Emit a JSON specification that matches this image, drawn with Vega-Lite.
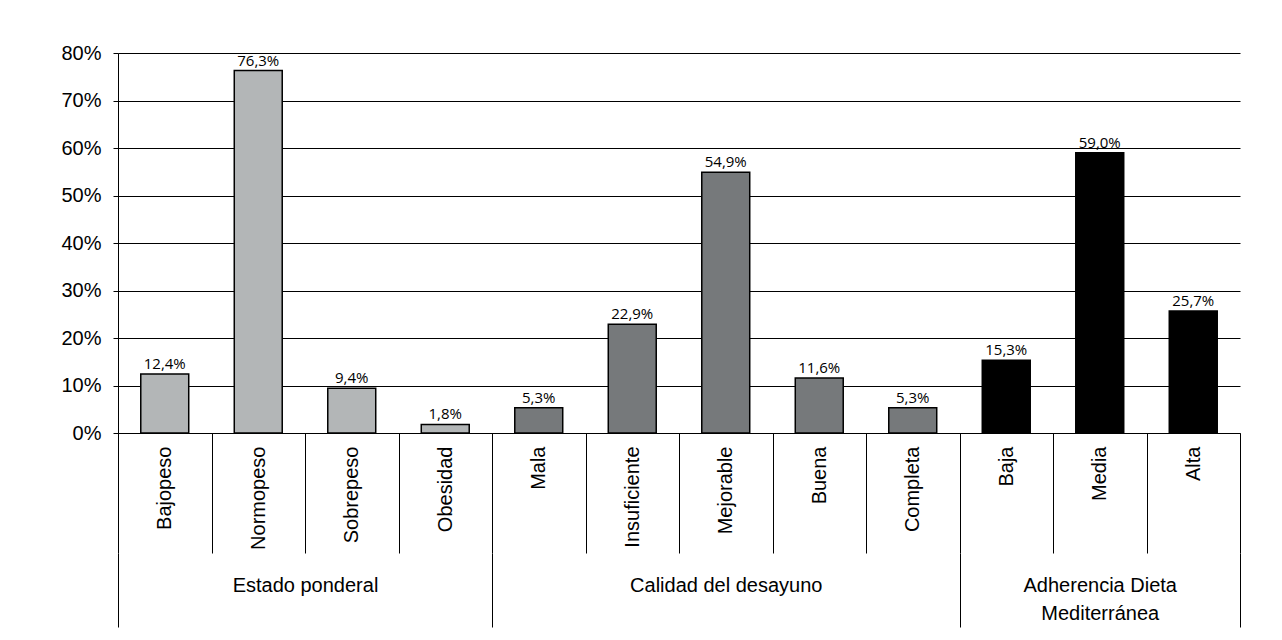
{
  "$schema": "https://vega.github.io/schema/vega-lite/v6.json",
  "width": 1122,
  "height": 380,
  "autosize": {"type": "none"},
  "padding": {"left": 118, "top": 53, "right": 42, "bottom": 207},
  "background": "white",
  "config": {
    "view": {"stroke": null},
    "locale": {"number": {"decimal": ",", "thousands": ".", "grouping": [3], "currency": ["", " €"]}},
    "axis": {"labelFont": "Liberation Sans", "labelColor": "black", "labelFontSize": 20}
  },
  "data": {
    "values": [
      {"grupo": "Estado ponderal", "categoria": "Bajopeso", "porcentaje": 0.124},
      {"grupo": "Estado ponderal", "categoria": "Normopeso", "porcentaje": 0.763},
      {"grupo": "Estado ponderal", "categoria": "Sobrepeso", "porcentaje": 0.094},
      {"grupo": "Estado ponderal", "categoria": "Obesidad", "porcentaje": 0.018},
      {"grupo": "Calidad del desayuno", "categoria": "Mala", "porcentaje": 0.053},
      {"grupo": "Calidad del desayuno", "categoria": "Insuficiente", "porcentaje": 0.229},
      {"grupo": "Calidad del desayuno", "categoria": "Mejorable", "porcentaje": 0.549},
      {"grupo": "Calidad del desayuno", "categoria": "Buena", "porcentaje": 0.116},
      {"grupo": "Calidad del desayuno", "categoria": "Completa", "porcentaje": 0.053},
      {"grupo": "Adherencia Dieta Mediterránea", "categoria": "Baja", "porcentaje": 0.153},
      {"grupo": "Adherencia Dieta Mediterránea", "categoria": "Media", "porcentaje": 0.59},
      {"grupo": "Adherencia Dieta Mediterránea", "categoria": "Alta", "porcentaje": 0.257}
    ]
  },
  "encoding": {
    "y": {
      "field": "porcentaje",
      "type": "quantitative",
      "scale": {"domain": [0, 0.8], "nice": false},
      "axis": {
        "title": null,
        "values": [0, 0.1, 0.2, 0.3, 0.4, 0.5, 0.6, 0.7, 0.8],
        "format": ".0%",
        "domainColor": "black",
        "domainWidth": 1,
        "tickColor": "black",
        "tickSize": 5,
        "gridColor": "black",
        "gridWidth": 1,
        "gridOpacity": 1,
        "labelPadding": 12,
        "labelFontSize": 20
      }
    }
  },
  "layer": [
    {
      "mark": {"type": "bar", "width": {"band": 0.513}, "stroke": "black", "strokeWidth": 1.5},
      "encoding": {
        "x": {
          "field": "categoria",
          "type": "nominal",
          "sort": null,
          "scale": {"paddingInner": 0, "paddingOuter": 0},
          "axis": {
            "title": null,
            "orient": "bottom",
            "labelAngle": 270,
            "labelAlign": "right",
            "labelBaseline": "middle",
            "labelPadding": -107,
            "labelOverlap": false,
            "labelFontSize": 20,
            "tickBand": "extent",
            "tickSize": 120,
            "tickColor": "black",
            "tickWidth": 1,
            "domainColor": "black",
            "domainWidth": 1,
            "grid": false
          }
        },
        "color": {
          "field": "grupo",
          "type": "nominal",
          "scale": {
            "domain": ["Estado ponderal", "Calidad del desayuno", "Adherencia Dieta Mediterránea"],
            "range": ["#b3b6b7", "#76797b", "#000000"]
          },
          "legend": null
        }
      }
    },
    {
      "mark": {"type": "text", "font": "Open Sans", "fontSize": 15, "dy": -5, "baseline": "alphabetic", "color": "black"},
      "encoding": {
        "x": {
          "field": "categoria",
          "type": "nominal",
          "sort": null,
          "axis": {
            "title": null,
            "orient": "bottom",
            "offset": 120,
            "domain": false,
            "grid": false,
            "tickBand": "extent",
            "tickSize": 74,
            "tickColor": "black",
            "tickWidth": 1,
            "tickOpacity": {
              "condition": {"test": "!isValid(datum.value) || datum.value === 'Obesidad' || datum.value === 'Completa' || datum.value === 'Alta'", "value": 1},
              "value": 0
            },
            "labelExpr": "datum.value === 'Sobrepeso' ? 'Estado ponderal' : datum.value === 'Mejorable' ? 'Calidad del desayuno' : datum.value === 'Media' ? ['Adherencia Dieta', 'Mediterránea'] : ''",
            "labelOffset": {"condition": {"test": "datum.value === 'Sobrepeso'", "value": -46.75}, "value": 0},
            "labelAngle": 0,
            "labelAlign": "center",
            "labelBaseline": "alphabetic",
            "labelPadding": -36,
            "labelLineHeight": 28,
            "labelLimit": 400,
            "labelOverlap": false,
            "labelFontSize": 20
          }
        },
        "text": {"field": "porcentaje", "type": "quantitative", "format": ".1%"}
      }
    }
  ],
  "resolve": {"axis": {"x": "independent"}}
}
